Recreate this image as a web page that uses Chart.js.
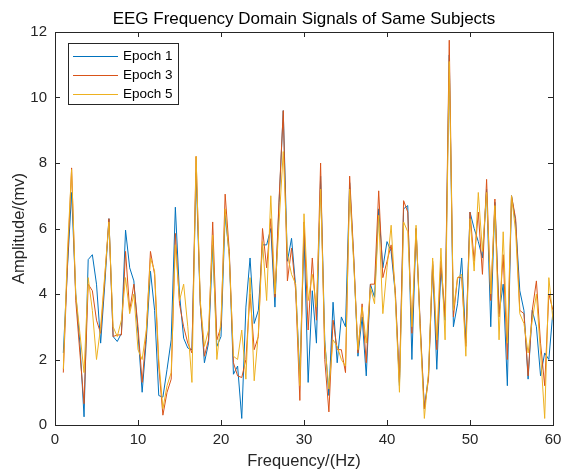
<!DOCTYPE html>
<html>
<head>
<meta charset="utf-8">
<script src="https://cdn.jsdelivr.net/npm/chart.js@4.4.0/dist/chart.umd.min.js"></script>
<style>
  html, body { margin: 0; padding: 0; background: #fff; }
  #wrap { width: 563px; height: 471px; }
</style>
</head>
<body>
<div id="wrap"><canvas id="eegChart" width="563" height="471"></canvas></div>
<script>
const freqs = [
  1, 1.5, 2, 2.5, 3, 3.5, 4, 4.5, 5, 5.5, 6, 6.5, 7, 7.5, 8, 8.5, 9, 9.5, 10, 10.5,
  11, 11.5, 12, 12.5, 13, 13.5, 14, 14.5, 15, 15.5, 16, 16.5, 17, 17.5, 18, 18.5, 19, 19.5, 20, 20.5,
  21, 21.5, 22, 22.5, 23, 23.5, 24, 24.5, 25, 25.5, 26, 26.5, 27, 27.5, 28, 28.5, 29, 29.5, 30, 30.5,
  31, 31.5, 32, 32.5, 33, 33.5, 34, 34.5, 35, 35.5, 36, 36.5, 37, 37.5, 38, 38.5, 39, 39.5, 40, 40.5,
  41, 41.5, 42, 42.5, 43, 43.5, 44, 44.5, 45, 45.5, 46, 46.5, 47, 47.5, 48, 48.5, 49, 49.5, 50, 50.5,
  51, 51.5, 52, 52.5, 53, 53.5, 54, 54.5, 55, 55.5, 56, 56.5, 57, 57.5, 58, 58.5, 59, 59.5, 60
];

const epoch1 = [
  2.2, 4.8, 7.1, 4.0, 2.5, 0.25, 5.05, 5.2, 4.3, 2.5, 4.3, 6.3, 2.7, 2.55, 2.8, 5.95, 4.8, 4.4, 2.8, 1.0,
  2.6, 4.7, 3.5, 0.9, 0.85, 1.7, 2.6, 6.65, 4.0, 2.65, 2.35, 2.3, 7.7, 3.7, 1.9, 2.5, 5.5, 2.4, 2.7, 6.4,
  5.2, 1.55, 1.8, 0.2, 3.6, 5.1, 3.1, 3.5, 5.5, 5.5, 6.0, 3.6, 6.8, 9.6, 5.0, 5.7, 4.2, 1.5, 5.8, 1.3,
  4.1, 2.5, 7.6, 2.6, 0.9, 3.75, 1.9, 3.3, 3.0, 7.4, 5.0, 2.1, 3.3, 1.5, 4.3, 3.9, 6.6, 4.8, 5.6, 5.3,
  4.0, 1.2, 6.6, 6.7, 2.0, 6.0, 3.0, 0.5, 1.5, 4.9, 1.7, 4.8, 3.2, 11.3, 3.0, 3.7, 5.1, 2.5, 6.5, 6.0,
  5.6, 5.1, 7.2, 3.0, 6.8, 3.4, 4.3, 1.2, 7.0, 6.2, 4.1, 3.5, 1.4, 3.5, 3.0, 1.5, 2.2, 2.0, 3.5
];

const epoch3 = [
  1.6, 4.9, 7.85, 3.8, 2.2, 0.65, 4.3, 4.1, 3.2, 2.8, 4.5, 6.3, 2.7, 2.75, 2.75, 5.3, 3.5, 4.3, 3.0, 1.3,
  2.8, 5.3, 4.6, 1.8, 0.3, 1.0, 1.4, 5.85, 3.7, 3.0, 2.5, 2.2, 8.2, 3.7, 2.1, 2.6, 6.2, 2.6, 3.0, 7.05,
  5.3, 1.9, 1.5, 1.45, 2.0, 4.0, 2.3, 2.7, 6.0, 4.8, 6.3, 3.9, 6.9, 9.6, 4.4, 5.4, 4.1, 0.75, 6.2, 2.9,
  5.1, 3.2, 8.0, 2.0, 0.4, 3.2, 2.3, 2.3, 1.6, 7.6, 5.1, 2.2, 3.7, 1.9, 4.3, 4.3, 7.15, 4.5, 5.0, 5.5,
  4.1, 1.3, 6.85, 6.5, 2.8, 6.0, 3.1, 0.5, 1.4, 5.0, 2.3, 5.0, 3.3, 11.75, 3.3, 4.5, 4.5, 2.4, 6.5, 5.0,
  6.5, 4.6, 7.5, 3.8, 6.9, 3.3, 5.2, 2.0, 7.0, 6.3, 3.5, 3.4, 1.5, 3.5, 4.4, 2.5, 1.2, 4.0, 3.5
];

const epoch5 = [
  1.7, 5.3, 7.8, 4.0, 2.8, 1.6, 4.5, 3.5, 2.0, 3.0, 4.6, 6.2, 3.0, 2.7, 3.2, 4.5, 3.4, 4.0, 2.3, 2.0,
  2.9, 5.1, 4.7, 2.0, 0.5, 1.2, 1.6, 5.5, 3.8, 4.3, 3.0, 1.3, 8.2, 3.8, 2.4, 2.9, 5.8, 2.0, 3.2, 6.6,
  5.1, 2.1, 2.0, 2.9, 1.4, 4.5, 1.35, 2.8, 5.6, 3.8, 7.0, 4.0, 6.2, 8.35, 5.2, 4.6, 4.3, 1.2, 6.45, 3.8,
  4.6, 3.6, 7.2, 2.5, 1.1, 2.6, 2.4, 2.0, 1.8, 7.2, 4.9, 2.3, 3.6, 2.5, 4.2, 3.7, 6.4, 3.4, 4.8, 6.1,
  3.9, 1.0, 6.2, 5.9, 3.0, 6.1, 2.9, 0.2, 1.6, 5.1, 2.6, 5.4, 2.6, 11.1, 3.5, 4.5, 4.6, 2.1, 6.3, 4.7,
  7.1, 5.3, 7.1, 4.0, 6.7, 2.6, 5.9, 2.5, 7.0, 5.9, 3.4, 3.1, 2.2, 3.2, 4.0, 2.2, 0.2, 4.5, 3.2
];

const xTicks = [0, 10, 20, 30, 40, 50, 60];
const yTicks = [0, 2, 4, 6, 8, 10, 12];
const chartTitle = "EEG Frequency Domain Signals of Same Subjects";

const toPoints = (ys) => ys.map((y, i) => ({ x: freqs[i], y }));

const axisColor = "#262626";
const fontFamily = "'Liberation Sans', Arial, Helvetica, sans-serif";

// MATLAB style: title over the axes, box with inward ticks, legend inside the axes
const matlabAxes = {
  id: "matlabAxes",
  afterDatasetsDraw(chart) {
    const { ctx, chartArea: a, scales } = chart;
    ctx.save();

    ctx.fillStyle = "#000";
    ctx.font = "17px " + fontFamily;
    ctx.textAlign = "center";
    ctx.textBaseline = "middle";
    ctx.fillText(chartTitle, (a.left + a.right) / 2, a.top - 13);

    ctx.strokeStyle = axisColor;
    ctx.lineWidth = 1;
    ctx.strokeRect(a.left + 0.5, a.top + 0.5, a.right - a.left, a.bottom - a.top);
    const len = 5;
    ctx.beginPath();
    xTicks.forEach((v) => {
      const px = Math.round(scales.x.getPixelForValue(v)) + 0.5;
      ctx.moveTo(px, a.bottom);
      ctx.lineTo(px, a.bottom - len);
      ctx.moveTo(px, a.top);
      ctx.lineTo(px, a.top + len);
    });
    yTicks.forEach((v) => {
      const py = Math.round(scales.y.getPixelForValue(v)) + 0.5;
      ctx.moveTo(a.left, py);
      ctx.lineTo(a.left + len, py);
      ctx.moveTo(a.right, py);
      ctx.lineTo(a.right - len, py);
    });
    ctx.stroke();

    // legend
    const bx = a.left + 13, by = a.top + 11, bw = 110, bh = 61;
    ctx.fillStyle = "#fff";
    ctx.fillRect(bx, by, bw, bh);
    ctx.strokeStyle = axisColor;
    ctx.strokeRect(bx + 0.5, by + 0.5, bw, bh);
    ctx.font = "13.5px " + fontFamily;
    ctx.textAlign = "left";
    chart.data.datasets.forEach((ds, i) => {
      const ry = by + 13 + i * 19;
      ctx.strokeStyle = ds.borderColor;
      ctx.beginPath();
      ctx.moveTo(bx + 5, ry + 0.5);
      ctx.lineTo(bx + 50, ry + 0.5);
      ctx.stroke();
      ctx.fillStyle = "#000";
      ctx.fillText(ds.label, bx + 55, ry);
    });
    ctx.restore();
  },
};

new Chart(document.getElementById("eegChart"), {
  type: "line",
  data: {
    datasets: [
      { label: "Epoch 1", data: toPoints(epoch1), borderColor: "#0072BD", order: 3 },
      { label: "Epoch 3", data: toPoints(epoch3), borderColor: "#D95319", order: 2 },
      { label: "Epoch 5", data: toPoints(epoch5), borderColor: "#EDB120", order: 1 },
    ],
  },
  options: {
    responsive: false,
    animation: false,
    parsing: false,
    layout: { padding: { top: 32, right: 10, left: 0, bottom: 0 } },
    elements: {
      line: { borderWidth: 1, tension: 0, fill: false },
      point: { radius: 0 },
    },
    plugins: {
      legend: { display: false },
      tooltip: { enabled: false },
      title: { display: false },
    },
    scales: {
      x: {
        type: "linear",
        min: 0,
        max: 60,
        afterBuildTicks: (s) => { s.ticks = xTicks.map((v) => ({ value: v })); },
        afterFit: (s) => {
          s.height = 46;
          s.paddingLeft = 0;
          s.paddingRight = 0;
        },
        grid: { display: false, drawTicks: false },
        border: { display: false },
        ticks: { color: axisColor, padding: 6, maxRotation: 0, font: { family: fontFamily, size: 15 } },
        title: {
          display: true,
          text: "Frequency/(Hz)",
          color: axisColor,
          padding: { top: 0, bottom: 0 },
          font: { family: fontFamily, size: 16.5 },
        },
      },
      y: {
        type: "linear",
        min: 0,
        max: 12,
        afterBuildTicks: (s) => { s.ticks = yTicks.map((v) => ({ value: v })); },
        afterFit: (s) => {
          s.width = 55;
          s.paddingTop = 0;
          s.paddingBottom = 0;
        },
        grid: { display: false, drawTicks: false },
        border: { display: false },
        ticks: { color: axisColor, padding: 8, font: { family: fontFamily, size: 15 } },
        title: {
          display: true,
          text: "Amplitude/(mv)",
          color: axisColor,
          padding: { top: 10, bottom: 0 },
          font: { family: fontFamily, size: 16.5 },
        },
      },
    },
  },
  plugins: [matlabAxes],
});
</script>
</body>
</html>
